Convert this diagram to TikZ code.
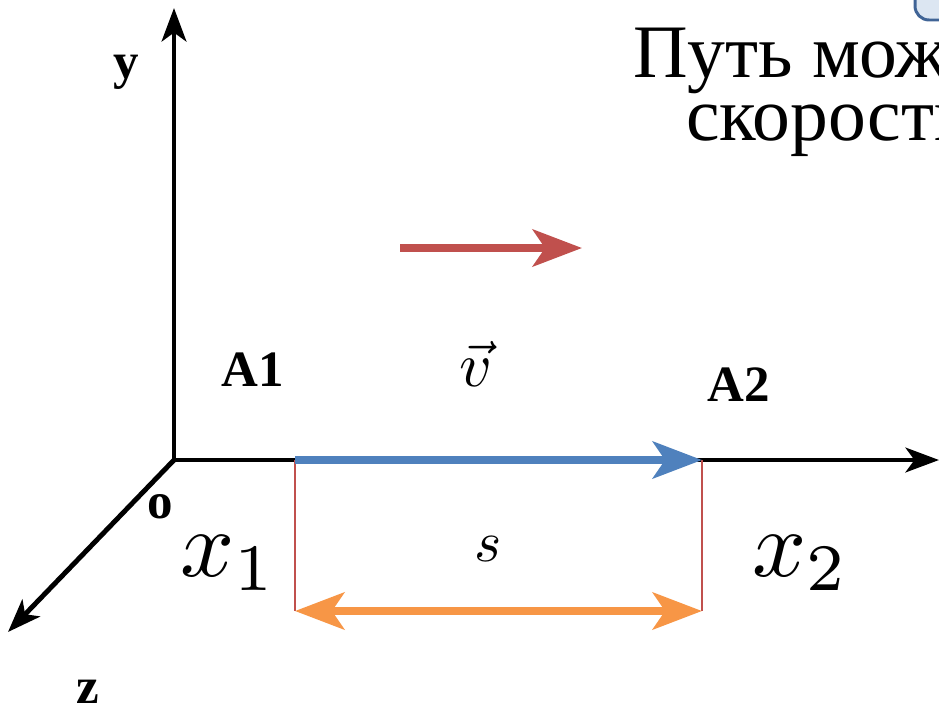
\documentclass[tikz,border=0pt]{standalone}
\usepackage{fontspec}
\setmainfont{Liberation Serif}[BoldFont={Liberation Serif Bold}]
\usepackage{amsmath}
\usepackage{tikz}
\usetikzlibrary{arrows.meta,positioning,calc}
\usepackage{xcolor}
\definecolor{vred}{RGB}{192,80,77}
\definecolor{sblue}{RGB}{79,129,189}
\definecolor{sorange}{RGB}{247,150,70}
\definecolor{btnfill}{RGB}{220,230,242}
\definecolor{btnline}{RGB}{64,100,150}

\begin{document}
\begin{tikzpicture}[x=0.02cm, y=-0.02cm,
    axis/.style={line width=2.8pt, -{Stealth[length=19pt,width=14pt,inset=5pt]}},
    fat/.style={line width=4.5pt, -{Stealth[length=28pt,width=21pt,inset=7pt]}},
    lbl/.style={font=\fontsize{29}{34}\selectfont\bfseries, inner sep=0pt},
    big/.style={scale=5.4, inner sep=0pt},
    title/.style={font=\fontsize{43}{48}\selectfont, inner sep=0pt, anchor=base west}]
    \useasboundingbox (0,0) rectangle (939,714);
    \begin{scope}
        \clip (0,0) rectangle (939,714);
        % Heading, cut by the slide edge
        \draw[btnline, fill=btnfill, line width=1.7pt, rounded corners=8pt] (915,-40) rectangle (990,20);
        \node[title] (title1) at (633,77) {Путь можно};
        \node[title] (title2) at (686,140) {скорости};
        % Axes
        \coordinate (O) at (174,460);
        \coordinate (yEnd) at (174,8);
        \coordinate (xEnd) at (939,460);
        \coordinate (zEnd) at (8,632);
        \draw[axis] (O) -- (yEnd);
        \draw[axis] (O) -- (xEnd);
        \draw[axis] (O) -- (zEnd);
    \end{scope}
    \node[lbl] (lblY) at (126,72) {y};
    \node[lbl] (lblO) at (160,507) {o};
    \node[lbl] (lblZ) at (88,692) {z};
    \node[lbl] (lblA1) at (253,370) {A1};
    \node[lbl] (lblA2) at (739,385) {A2};
    % Velocity
    \coordinate (vStart) at (400,248);
    \coordinate (vEnd) at (582,248);
    \draw[fat, vred] (vStart) -- (vEnd);
    \node[scale=3.6, inner sep=0pt] (lblV) at (476,364) {$\vec{v}$};
    % Displacement and path
    \coordinate (sStart) at (295,460);
    \coordinate (sEnd) at (702,460);
    \coordinate (dStart) at (295,611);
    \coordinate (dEnd) at (702,611);
    \draw[vred, line width=0.85pt] (sStart) -- (dStart);
    \draw[vred, line width=0.85pt] (sEnd) -- (dEnd);
    \draw[fat, sblue] (sStart) -- (sEnd);
    \draw[fat, sorange, {Stealth[length=28pt,width=21pt,inset=7pt]}-{Stealth[length=28pt,width=21pt,inset=7pt]}] (dStart) -- (dEnd);
    \node[scale=3.3, inner sep=0pt] (lblS) at (488,549) {$s$};
    \node[big] (lblX1) at (229,563) {$x_1$};
    \node[big] (lblX2) at (801,563) {$x_2$};
\end{tikzpicture}
\end{document}
